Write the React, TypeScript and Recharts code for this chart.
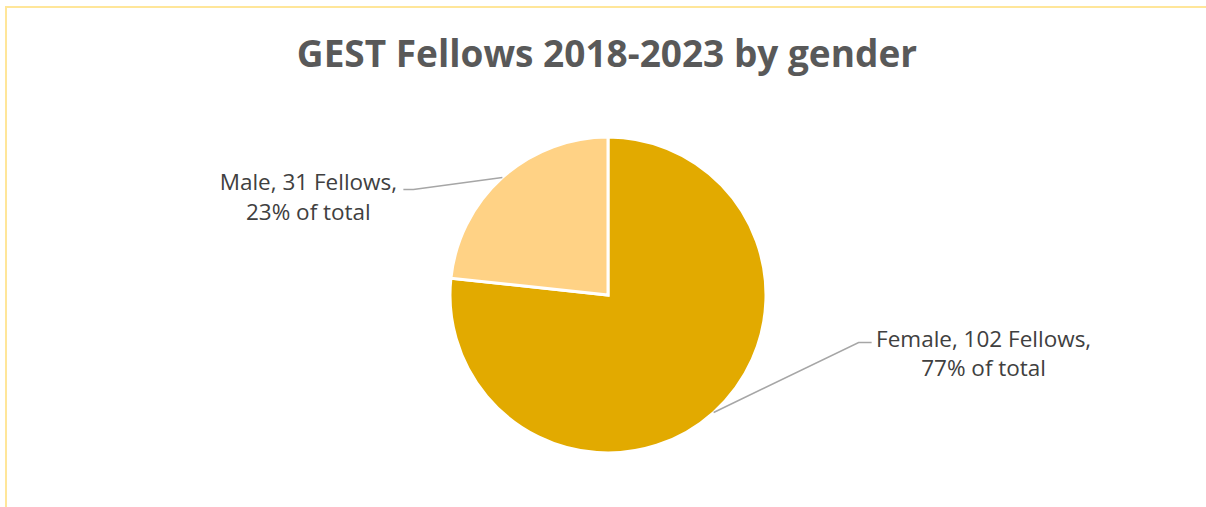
import { PieChart, Pie, Cell } from "recharts";

const genders = ["Female", "Male"];
const fellows = [102, 31];
const sliceColors = ["#E2AA00", "#FFD285"];

const data = genders.map((name, i) => ({ name, value: fellows[i] }));

// label leader geometry, relative to the slice's outer point
const labelLayout: Record<string, { elbowDx: number; elbowDy: number; tail: number; textDx: number; textDy: number }> = {
  Female: { elbowDx: 145, elbowDy: -70, tail: 13, textDx: 270, textDy: 4 },
  Male: { elbowDx: -89, elbowDy: 12, tail: -10, textDx: -194, textDy: 1 },
};

const RAD = Math.PI / 180;

function renderLabel(props: any) {
  const { cx, cy, midAngle, outerRadius, name, value, percent } = props;
  const lay = labelLayout[name];
  const sx = cx + outerRadius * Math.cos(-midAngle * RAD);
  const sy = cy + outerRadius * Math.sin(-midAngle * RAD);
  const ex = sx + lay.elbowDx;
  const ey = sy + lay.elbowDy;
  const tx = sx + lay.textDx;
  return (
    <g>
      <polyline
        points={`${sx},${sy} ${ex},${ey} ${ex + lay.tail},${ey}`}
        fill="none"
        stroke="#A6A6A6"
        strokeWidth={1.5}
      />
      <text x={tx} y={ey + lay.textDy} textAnchor="middle" fill="#404040" fontSize={22.5} fontFamily="'Open Sans', sans-serif">
        <tspan x={tx}>{`${name}, ${value} Fellows,`}</tspan>
        <tspan x={tx} dy={29.5}>{`${Math.round(percent * 100)}% of total`}</tspan>
      </text>
    </g>
  );
}

export default function App() {
  return (
    <div style={{ position: "absolute", left: 0, top: 0, width: 1206, height: 507, overflow: "hidden", background: "#fff" }}>
      <div
        style={{
          position: "absolute",
          left: 5,
          top: 6,
          width: 1300,
          height: 600,
          border: "2px solid #FFE699",
          boxSizing: "border-box",
        }}
      />
      <div
        style={{
          position: "absolute",
          left: 0,
          top: 28,
          width: 1214,
          textAlign: "center",
          fontFamily: "'Open Sans', sans-serif",
          fontWeight: 700,
          fontSize: 37,
          lineHeight: "50px",
          color: "#595959",
          whiteSpace: "nowrap",
        }}
      >
        GEST Fellows 2018-2023 by gender
      </div>
      <div style={{ position: "absolute", left: 0, top: 0 }}>
        <PieChart width={1206} height={507} margin={{ top: 0, right: 0, bottom: 0, left: 0 }}>
          <Pie
            data={data}
            dataKey="value"
            nameKey="name"
            cx={608}
            cy={295}
            outerRadius={158}
            startAngle={90}
            endAngle={-270}
            stroke="#FFFFFF"
            strokeWidth={3}
            label={renderLabel}
            labelLine={false}
            isAnimationActive={false}
          >
            {data.map((d, i) => (
              <Cell key={d.name} fill={sliceColors[i]} />
            ))}
          </Pie>
        </PieChart>
      </div>
    </div>
  );
}
